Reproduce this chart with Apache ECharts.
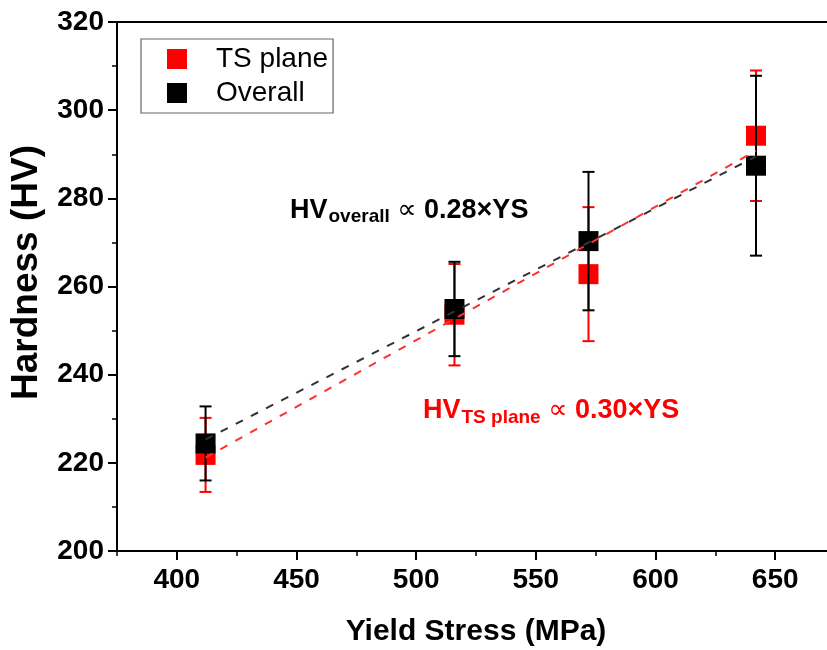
<!DOCTYPE html>
<html>
<head>
<meta charset="utf-8">
<script src="https://cdn.jsdelivr.net/npm/echarts@6/dist/echarts.min.js"></script>
<style>html,body{margin:0;padding:0;background:#fff;overflow:hidden}#c{width:827px;height:650px}</style>
</head>
<body>
<div id="c"></div>
<script>
// ---- data ----
const yieldStress = [412, 516, 572, 642];
const tsPlaneHV = [221.8, 253.6, 262.8, 294.2];
const tsPlaneErr = [8.4, 11.5, 15.2, 14.8];
const overallHV = [224.4, 254.9, 270.3, 287.4];
const overallErr = [8.4, 10.7, 15.7, 20.4];
const fitX = [412, 642];
const fitOverall = [225.3, 289.5];
const fitTSPlane = [221.2, 290.8];
const xMajorTicks = [400, 450, 500, 550, 600, 650];
const seriesNames = ['TS plane', 'Overall'];

const FONT = '"Liberation Sans", Arial, "DejaVu Sans", sans-serif';
const chart = echarts.init(document.getElementById('c'), null, {renderer: 'canvas'});

function errData(vals, errs) {
  return yieldStress.map((x, i) => [x, vals[i] + errs[i], vals[i] - errs[i]]);
}
function errRender(color) {
  return function (params, api) {
    const x = api.value(0);
    const top = api.coord([x, api.value(1)]);
    const bot = api.coord([x, api.value(2)]);
    const h = 6;
    const st = {stroke: color, lineWidth: 2};
    return {type: 'group', children: [
      {type: 'line', shape: {x1: top[0], y1: top[1], x2: bot[0], y2: bot[1]}, style: st},
      {type: 'line', shape: {x1: top[0] - h, y1: top[1], x2: top[0] + h, y2: top[1]}, style: st},
      {type: 'line', shape: {x1: bot[0] - h, y1: bot[1], x2: bot[0] + h, y2: bot[1]}, style: st}
    ]};
  };
}

const option = {
  animation: false,
  backgroundColor: '#fff',
  grid: {left: 117, top: 22, width: 718, bottom: 99, show: false, outerBoundsMode: 'none', containLabel: false},
  legend: {
    orient: 'vertical', left: 141, top: 39,
    data: seriesNames,
    icon: 'rect', itemWidth: 20, itemHeight: 20, itemGap: 6,
    padding: [6, 5, 6, 26],
    borderColor: '#666', borderWidth: 1.2,
    itemStyle: {opacity: 1},
    textStyle: {fontFamily: FONT, fontSize: 28, color: '#000', lineHeight: 28, padding: [0, 0, 0, 24]}
  },
  xAxis: [
    {
      type: 'value', position: 'bottom', min: 375, max: 675,
      axisLine: {show: true, onZero: false, lineStyle: {color: '#000', width: 2}},
      axisTick: {show: true, inside: false, length: 9, lineStyle: {width: 2, color: '#000'}, customValues: xMajorTicks},
      axisLabel: {customValues: xMajorTicks, fontFamily: FONT, fontSize: 28, fontWeight: 'bold', color: '#000', margin: 15},
      splitLine: {show: false},
      name: 'Yield Stress (MPa)', nameLocation: 'middle', nameGap: 66,
      nameTextStyle: {fontFamily: FONT, fontSize: 30, fontWeight: 'bold', color: '#000'}
    },
    {
      type: 'value', position: 'bottom', min: 375, max: 675, interval: 25,
      axisLine: {show: false},
      axisTick: {show: true, inside: false, length: 5, lineStyle: {width: 1.5, color: '#000'}},
      axisLabel: {show: false}, splitLine: {show: false}
    },
    {
      type: 'value', position: 'top', min: 375, max: 675,
      axisLine: {show: true, onZero: false, lineStyle: {color: '#000', width: 2}},
      axisTick: {show: false}, axisLabel: {show: false}, splitLine: {show: false}
    }
  ],
  yAxis: [
    {
      type: 'value', position: 'left', min: 200, max: 320, interval: 20,
      axisLine: {show: true, onZero: false, lineStyle: {color: '#000', width: 2}},
      axisTick: {show: true, inside: false, length: 9, lineStyle: {width: 2, color: '#000'}},
      minorTick: {show: true, splitNumber: 2, length: 5, lineStyle: {width: 1.5, color: '#000'}},
      axisLabel: {fontFamily: FONT, fontSize: 28, fontWeight: 'bold', color: '#000', margin: 13},
      splitLine: {show: false},
      name: 'Hardness (HV)', nameLocation: 'middle', nameGap: 72,
      nameTextStyle: {fontFamily: FONT, fontSize: 37, fontWeight: 'bold', color: '#000', padding: [0, 0, 0, 28]}
    }
  ],
  series: [
    {
      name: 'TS plane err', type: 'custom', xAxisIndex: 0, yAxisIndex: 0, z: 2,
      renderItem: errRender('#ff0000'), data: errData(tsPlaneHV, tsPlaneErr), encode: {x: 0, y: [1, 2]}
    },
    {
      name: seriesNames[0], type: 'scatter', xAxisIndex: 0, yAxisIndex: 0, z: 3,
      symbol: 'rect', symbolSize: 20, itemStyle: {color: '#ff0000', opacity: 1},
      data: yieldStress.map((x, i) => [x, tsPlaneHV[i]])
    },
    {
      name: 'Overall err', type: 'custom', xAxisIndex: 0, yAxisIndex: 0, z: 4,
      renderItem: errRender('#000000'), data: errData(overallHV, overallErr), encode: {x: 0, y: [1, 2]}
    },
    {
      name: seriesNames[1], type: 'scatter', xAxisIndex: 0, yAxisIndex: 0, z: 5,
      symbol: 'rect', symbolSize: 20, itemStyle: {color: '#000000', opacity: 1},
      data: yieldStress.map((x, i) => [x, overallHV[i]])
    },
    {
      name: 'Overall fit', type: 'line', xAxisIndex: 0, yAxisIndex: 0, z: 6,
      symbol: 'none', lineStyle: {color: '#333', width: 2, type: [8, 9]},
      data: fitX.map((x, i) => [x, fitOverall[i]])
    },
    {
      name: 'TS plane fit', type: 'line', xAxisIndex: 0, yAxisIndex: 0, z: 7,
      symbol: 'none', lineStyle: {color: '#ff3030', width: 2, type: [8, 9]},
      data: fitX.map((x, i) => [x, fitTSPlane[i]])
    }
  ],
  graphic: [
    {
      type: 'text', left: 290, top: 197, z: 100,
      style: {
        text: '{b|HV}{s|overall}{m| ∝ }{b|0.28×YS}',
        fill: '#000',
        rich: {
          b: {fontFamily: FONT, fontSize: 27, fontWeight: 'bold', fill: '#000'},
          s: {fontFamily: FONT, fontSize: 19, fontWeight: 'bold', fill: '#000', padding: [12, 0, 0, 1]},
          m: {fontFamily: FONT, fontSize: 27, fontWeight: 'normal', fill: '#000'}
        }
      }
    },
    {
      type: 'text', left: 423, top: 397, z: 100,
      style: {
        text: '{b|HV}{s|TS plane}{m| ∝ }{b|0.30×YS}',
        fill: '#ff0000',
        rich: {
          b: {fontFamily: FONT, fontSize: 27, fontWeight: 'bold', fill: '#ff0000'},
          s: {fontFamily: FONT, fontSize: 19, fontWeight: 'bold', fill: '#ff0000', padding: [14, 0, 0, 1]},
          m: {fontFamily: FONT, fontSize: 27, fontWeight: 'normal', fill: '#ff0000'}
        }
      }
    }
  ]
};
chart.setOption(option);
</script>
</body>
</html>
